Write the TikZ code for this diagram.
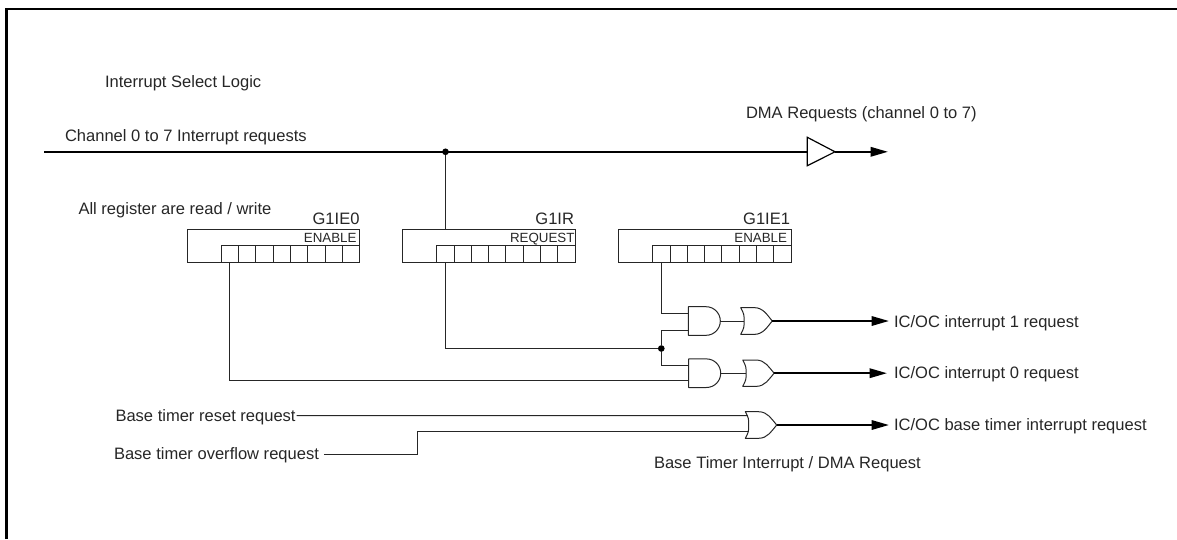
\documentclass[tikz,border=0pt]{standalone}
\usepackage{fontspec}
\setmainfont{Liberation Sans}
\usetikzlibrary{arrows.meta,calc}
\definecolor{ink}{gray}{0.15}
\tikzset{
  wire/.style={line width=0.75pt,draw=ink},
  bus/.style={line width=1.6pt,draw=black},
  busarrow/.style={bus,-{Triangle[length=13pt,width=7pt]}},
  gateline/.style={line width=0.75pt,draw=ink,line join=round},
  txt/.style={inner sep=0pt,outer sep=0pt,anchor=base west,font=\fontsize{12.4pt}{14pt}\selectfont,text=ink},
  small/.style={inner sep=0pt,outer sep=0pt,anchor=base east,font=\fontsize{10pt}{12pt}\selectfont,text=ink},
  regbox/.style={rectangle,draw=ink,line width=0.75pt,inner sep=0pt,outer sep=0pt,minimum width=129.5pt,minimum height=24.5pt},
  cellbox/.style={rectangle,draw=ink,line width=0.75pt,inner sep=0pt,outer sep=0pt,minimum width=13pt,minimum height=12.3pt},
  dotn/.style={circle,fill=black,inner sep=0pt,outer sep=0pt,minimum size=5pt},
  tri/.style={line width=0.9pt,draw=black,fill=white,line join=miter}
}
% #1 name, #2 left x, #3 centre y, #4 half height, #5 width
\newcommand{\andshape}[5]{%
  \pgfmathsetmacro\gx{#2}\pgfmathsetmacro\gy{#3}\pgfmathsetmacro\gh{#4}\pgfmathsetmacro\gw{#5}%
  \pgfmathsetmacro\fx{\gx+\gw-\gh}\pgfmathsetmacro\cx{\fx+0.56*\gh}\pgfmathsetmacro\ex{\gx+\gw}%
  \pgfmathsetmacro\ty{\gy-\gh}\pgfmathsetmacro\by{\gy+\gh}\pgfmathsetmacro\ca{\gy-0.55*\gh}\pgfmathsetmacro\cb{\gy+0.55*\gh}%
  \node[inner sep=0pt,outer sep=0pt,minimum width=#5*0.75pt,minimum height=#4*1.5pt] (#1) at (\gx+\gw/2,\gy) {};
  \draw[gateline] (\fx,\ty) -- (\gx,\ty) -- (\gx,\by) -- (\fx,\by)
    .. controls (\cx,\by) and (\ex,\cb) .. (\ex,\gy)
    .. controls (\ex,\ca) and (\cx,\ty) .. (\fx,\ty) -- cycle;
  \coordinate (#1-i1) at (\gx,\gy-7.4);
  \coordinate (#1-i2) at (\gx,\gy+7.6);
}
\newcommand{\orshape}[5]{%
  \pgfmathsetmacro\gx{#2}\pgfmathsetmacro\gy{#3}\pgfmathsetmacro\gh{#4}\pgfmathsetmacro\gw{#5}%
  \pgfmathsetmacro\ex{\gx+\gw}\pgfmathsetmacro\mx{\gx+0.42*\gw}\pgfmathsetmacro\qx{\gx+0.72*\gw}%
  \pgfmathsetmacro\ty{\gy-\gh}\pgfmathsetmacro\by{\gy+\gh}\pgfmathsetmacro\ca{\gy-0.35*\gh}\pgfmathsetmacro\cb{\gy+0.35*\gh}%
  \pgfmathsetmacro\bx{\gx+3.4}\pgfmathsetmacro\ba{\gy-0.5*\gh}\pgfmathsetmacro\bb{\gy+0.5*\gh}%
  \node[inner sep=0pt,outer sep=0pt,minimum width=#5*0.75pt,minimum height=#4*1.5pt] (#1) at (\gx+\gw/2,\gy) {};
  \draw[gateline] (\gx,\ty) -- (\mx,\ty)
    .. controls (\qx,\ty) and (\ex-5,\ca-1) .. (\ex,\gy)
    .. controls (\ex-5,\cb+1) and (\qx,\by) .. (\mx,\by) -- (\gx,\by)
    .. controls (\bx,\bb) and (\bx,\bb) .. (\bx,\gy)
    .. controls (\bx,\ba) and (\bx,\ba) .. (\gx,\ty) -- cycle;
  \coordinate (#1-back) at (\bx,\gy);
  \coordinate (#1-i1) at (\gx+2.4,\gy-9.3);
  \coordinate (#1-i2) at (\gx+2.4,\gy+6.7);
}
\newcommand{\register}[2]{% name, left x
  \node[regbox,anchor=north west] (#1) at (#2,229.5) {};
  \foreach \i in {0,...,7}{
    \node[cellbox,anchor=south west] (#1c\i) at ($(#2,262.2)+(34+17.3*\i,0)$) {};
  }
}
\begin{document}
\begin{tikzpicture}[x=0.75pt,y=-0.75pt]
\useasboundingbox (0,0) rectangle (1177,539);
\coordinate (bl) at (6.5,539);
\coordinate (tl) at (6.5,9);
\coordinate (tr) at (1177,9);
\draw[line width=1.6pt,draw=black,line join=miter] (bl) -- (tl) -- (tr);

\node[txt] (t1) at (105,87) {Interrupt Select Logic};
\node[txt] (t2) at (65,141) {Channel 0 to 7 Interrupt requests};
\node[txt] (t3) at (746,118) {DMA Requests (channel 0 to 7)};
\node[txt] (t4) at (78.5,214) {All register are read / write};
\node[txt] (t5) at (894,327) {IC/OC interrupt 1 request};
\node[txt] (t6) at (894,378.5) {IC/OC interrupt 0 request};
\node[txt] (t7) at (894,430) {IC/OC base timer interrupt request};
\node[txt] (t8) at (654,468) {Base Timer Interrupt / DMA Request};
\node[txt] (t9) at (115.5,421) {Base timer reset request};
\node[txt] (t10) at (114,459) {Base timer overflow request};

% registers
\register{ra}{187.3}
\register{rb}{402.7}
\register{rc}{618.7}
\node[txt,anchor=base east] (ta) at (359.5,224) {G1IE0};
\node[txt,anchor=base east] (tb) at (574,224) {G1IR};
\node[txt,anchor=base east] (tc) at (790,224) {G1IE1};
\node[small] (la) at (356.5,242) {ENABLE};
\node[small] (lb) at (574.5,242) {REQUEST};
\node[small] (lc) at (787,242) {ENABLE};

% gates
\andshape{anda}{688.3}{321}{14.3}{32}
\andshape{andb}{688.7}{373.2}{14.3}{32}
\orshape{ora}{740.7}{321}{13.4}{31.6}
\orshape{orb}{742.7}{373.2}{13.2}{31.4}
\orshape{orc}{745.3}{425}{13.3}{31.4}
\coordinate (anda-i2b) at (688.3,330);

% bus and buffer
\coordinate (busL) at (44,151.8);
\coordinate (busEnd) at (888,151.8);
\coordinate (triA) at (807.3,137.3);
\coordinate (triB) at (807.3,165.7);
\coordinate (triC) at (835,151.8);
\coordinate (triW) at (807.3,151.8);
\node[dotn] (j1) at (445.5,151.8) {};
\draw[bus] (busL) -- (triW);
\draw[busarrow] (triC) -- (busEnd);
\draw[tri] (triA) -- (triC) -- (triB) -- cycle;

% junction
\node[dotn] (j2) at (661.3,348.5) {};

% wires
\draw[wire] (j1) -- (j1 |- rb.north);
\draw[wire] (rbc0.south) |- (j2);
\draw[wire] (rcc0.south) |- (anda-i1);
\draw[wire] (j2) |- (anda-i2b);
\draw[wire] (j2) |- (andb-i1);
\draw[wire] (rac0.south) |- (andb-i2);
\draw[wire] (anda.east) -- (ora-back);
\draw[wire] (andb.east) -- (orb-back);

% base timer inputs
\coordinate (ovA) at ($(t10.base east)+(5,-4.7)$);
\coordinate (ovB) at (417.3,431.7);
\draw[wire] ($(t9.base east)+(1,-5.3)$) -- (orc-i1);
\draw[wire] (ovA) -| (ovB) -- (orc-i2);

% outputs
\coordinate (outa) at (889,321);
\coordinate (outb) at (887,373.2);
\coordinate (outc) at (889,425);
\draw[busarrow] (ora.east) -- (outa);
\draw[busarrow] (orb.east) -- (outb);
\draw[busarrow] (orc.east) -- (outc);
\end{tikzpicture}
\end{document}
